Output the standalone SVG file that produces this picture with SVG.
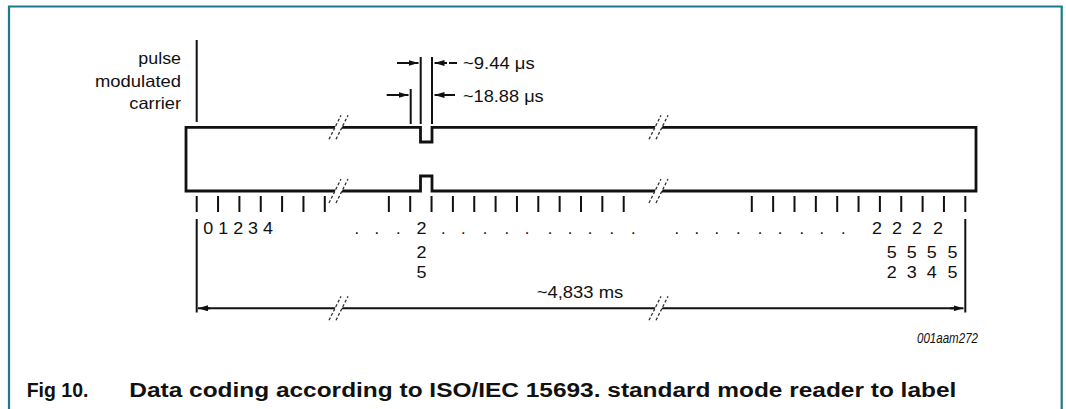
<svg xmlns="http://www.w3.org/2000/svg" width="1066" height="409" viewBox="0 0 1066 409">
<style>
.t{font-family:"Liberation Sans",Arial,sans-serif;font-size:16.5px;fill:#111}
.cap{font-family:"Liberation Sans",Arial,sans-serif;font-size:20px;font-weight:bold;fill:#111}
.id{font-family:"Liberation Sans",Arial,sans-serif;font-size:15px;font-style:italic;fill:#111}
.ln{stroke:#111;stroke-width:2;fill:none}
.wave{stroke:#111;stroke-width:2.8;fill:none;stroke-linejoin:miter}
.brk{stroke:#333;stroke-width:1.3;stroke-dasharray:3 2;fill:none}
.frame{stroke:#1b7a8c;stroke-width:2.2;fill:none}
</style>
<defs>
<marker id="ah" viewBox="0 0 10 6" refX="10" refY="3" markerWidth="10" markerHeight="6" markerUnits="userSpaceOnUse" orient="auto">
<path d="M0,0 L10,3 L0,6 z" fill="#111"/>
</marker>
</defs>
<rect width="1066" height="409" fill="#fff"/>
<path class="frame" d="M9,420 V6.5 H1061.7 V420"/>

<g id="carrier-label">
<line class="ln" x1="196.7" y1="40" x2="196.7" y2="122"/>
<text class="t" x="181" y="64" text-anchor="end" textLength="42.7" lengthAdjust="spacingAndGlyphs">pulse</text>
<text class="t" x="181" y="87" text-anchor="end" textLength="86" lengthAdjust="spacingAndGlyphs">modulated</text>
<text class="t" x="181" y="109" text-anchor="end" textLength="51.7" lengthAdjust="spacingAndGlyphs">carrier</text>
</g>

<g id="waveform">
<path class="wave" d="M186,127.3 H420.5 V142 H432 V127.3 H976 V191 H432 V176 H420.5 V191 H186 Z"/>
</g>

<g id="pulse-dimensions">
<line class="ln" x1="420.7" y1="57" x2="420.7" y2="124"/>
<line class="ln" x1="432" y1="57" x2="432" y2="124"/>
<line class="ln" x1="410.7" y1="89" x2="410.7" y2="124"/>
<line class="ln" x1="397" y1="63" x2="418.5" y2="63" marker-end="url(#ah)" stroke-width="1.6"/>
<line class="ln" x1="447" y1="63" x2="434.5" y2="63" marker-end="url(#ah)" stroke-width="1.6"/>
<line class="ln" x1="449" y1="63" x2="457" y2="63" stroke-width="1.6"/>
<line class="ln" x1="386.7" y1="95" x2="408.5" y2="95" marker-end="url(#ah)" stroke-width="1.6"/>
<line class="ln" x1="455" y1="95" x2="434.5" y2="95" marker-end="url(#ah)" stroke-width="1.6"/>
<text class="t" x="463" y="69.3" textLength="71.7" lengthAdjust="spacingAndGlyphs">~9.44 μs</text>
<text class="t" x="463" y="101.7" textLength="80.7" lengthAdjust="spacingAndGlyphs">~18.88 μs</text>
</g>

<g id="ticks">
<path class="ln" d="M196.7,196V212 M218.05,196V212 M239.4,196V212 M260.75,196V212 M282.1,196V212 M303.45,196V212 M324.8,196V212
M388.85,196V212 M410.2,196V212 M431.55,196V212 M452.9,196V212 M474.25,196V212 M495.6,196V212 M516.95,196V212 M538.3,196V212 M559.65,196V212 M581,196V212 M602.35,196V212 M623.7,196V212
M751.8,196V212 M773.15,196V212 M794.5,196V212 M815.85,196V212 M837.2,196V212 M858.55,196V212 M879.9,196V212 M901.25,196V212 M922.6,196V212 M943.95,196V212 M965.3,196V212"/>
</g>

<g id="tick-labels">
<text class="t" x="203.3" y="234" textLength="69.7" lengthAdjust="spacingAndGlyphs">0 1 2 3 4</text>
<text class="t" x="416.5" y="234" textLength="10" lengthAdjust="spacingAndGlyphs">2</text>
<text class="t" x="416.5" y="257.7" textLength="10" lengthAdjust="spacingAndGlyphs">2</text>
<text class="t" x="416.5" y="278.3" textLength="10" lengthAdjust="spacingAndGlyphs">5</text>
<text class="t" y="234" text-anchor="middle"><tspan x="356.7">.</tspan><tspan x="376.7">.</tspan><tspan x="398.3">.</tspan><tspan x="443.3">.</tspan><tspan x="463.3">.</tspan><tspan x="485">.</tspan><tspan x="506.7">.</tspan><tspan x="527">.</tspan><tspan x="550">.</tspan><tspan x="570">.</tspan><tspan x="590">.</tspan><tspan x="611.7">.</tspan><tspan x="633.3">.</tspan><tspan x="676.7">.</tspan><tspan x="696.7">.</tspan><tspan x="716.7">.</tspan><tspan x="738.3">.</tspan><tspan x="760">.</tspan><tspan x="780">.</tspan><tspan x="801.7">.</tspan><tspan x="821.7">.</tspan><tspan x="843.3">.</tspan></text>
<text class="t" x="872" y="234" textLength="10" lengthAdjust="spacingAndGlyphs">2</text>
<text class="t" x="892" y="234" textLength="10" lengthAdjust="spacingAndGlyphs">2</text>
<text class="t" x="912" y="234" textLength="10" lengthAdjust="spacingAndGlyphs">2</text>
<text class="t" x="933" y="234" textLength="10" lengthAdjust="spacingAndGlyphs">2</text>
<text class="t" x="886.7" y="257.5" textLength="10" lengthAdjust="spacingAndGlyphs">5</text>
<text class="t" x="906.7" y="257.5" textLength="10" lengthAdjust="spacingAndGlyphs">5</text>
<text class="t" x="926.7" y="257.5" textLength="10" lengthAdjust="spacingAndGlyphs">5</text>
<text class="t" x="947.5" y="257.5" textLength="10" lengthAdjust="spacingAndGlyphs">5</text>
<text class="t" x="886.7" y="278.3" textLength="10" lengthAdjust="spacingAndGlyphs">2</text>
<text class="t" x="906.7" y="278.3" textLength="10" lengthAdjust="spacingAndGlyphs">3</text>
<text class="t" x="926.7" y="278.3" textLength="10" lengthAdjust="spacingAndGlyphs">4</text>
<text class="t" x="947.5" y="278.3" textLength="10" lengthAdjust="spacingAndGlyphs">5</text>
</g>

<g id="total-duration">
<line class="ln" x1="196.7" y1="219" x2="196.7" y2="312.5"/>
<line class="ln" x1="965.3" y1="219" x2="965.3" y2="312.5"/>
<line class="ln" x1="210" y1="308.3" x2="198" y2="308.3" marker-end="url(#ah)" stroke-width="1.8"/>
<line class="ln" x1="205" y1="308.3" x2="955" y2="308.3" stroke-width="1.8"/>
<line class="ln" x1="950" y1="308.3" x2="963.5" y2="308.3" marker-end="url(#ah)" stroke-width="1.8"/>
<text class="t" x="536.7" y="298" textLength="86.6" lengthAdjust="spacingAndGlyphs">~4,833 ms</text>
</g>

<g id="breaks">
<g transform="translate(338,127.3)"><path d="M-9,12 L3,-12 L10,-12 L-2,12 Z" fill="#fff"/><path class="brk" d="M-9,12 L3,-12 M-2,12 L10,-12"/></g>
<g transform="translate(338,191)"><path d="M-9,12 L3,-12 L10,-12 L-2,12 Z" fill="#fff"/><path class="brk" d="M-9,12 L3,-12 M-2,12 L10,-12"/></g>
<g transform="translate(338,308.3)"><path d="M-9,12 L3,-12 L10,-12 L-2,12 Z" fill="#fff"/><path class="brk" d="M-9,12 L3,-12 M-2,12 L10,-12"/></g>
<g transform="translate(658,127.3)"><path d="M-9,12 L3,-12 L10,-12 L-2,12 Z" fill="#fff"/><path class="brk" d="M-9,12 L3,-12 M-2,12 L10,-12"/></g>
<g transform="translate(658,191)"><path d="M-9,12 L3,-12 L10,-12 L-2,12 Z" fill="#fff"/><path class="brk" d="M-9,12 L3,-12 M-2,12 L10,-12"/></g>
<g transform="translate(658,308.3)"><path d="M-9,12 L3,-12 L10,-12 L-2,12 Z" fill="#fff"/><path class="brk" d="M-9,12 L3,-12 M-2,12 L10,-12"/></g>
</g>

<g id="caption">
<text class="id" x="978" y="343" text-anchor="end" textLength="61" lengthAdjust="spacingAndGlyphs">001aam272</text>
<text class="cap" x="26.7" y="397.3" textLength="61.7" lengthAdjust="spacingAndGlyphs">Fig 10.</text>
<text class="cap" x="129.3" y="397.3" textLength="827" lengthAdjust="spacingAndGlyphs">Data coding according to ISO/IEC 15693. standard mode reader to label</text>
</g>
</svg>
